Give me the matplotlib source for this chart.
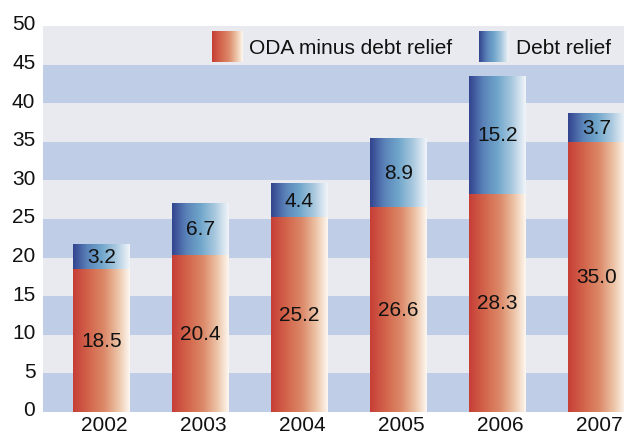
import matplotlib
matplotlib.use("Agg")
import matplotlib.pyplot as plt
from matplotlib.colors import LinearSegmentedColormap
from matplotlib.transforms import ScaledTranslation
import numpy as np

years = ["2002", "2003", "2004", "2005", "2006", "2007"]
oda_minus_debt = [18.5, 20.4, 25.2, 26.6, 28.3, 35.0]
debt_relief = [3.2, 6.7, 4.4, 8.9, 15.2, 3.7]

plt.rcParams['font.family'] = ['Liberation Sans', 'DejaVu Sans']

red_cmap = LinearSegmentedColormap.from_list(
    "red", [(0, "#c63e36"), (0.3, "#d4684e"), (0.55, "#dc8a6a"),
            (0.8, "#edc5a8"), (1, "#fdf8f2")])
blue_cmap = LinearSegmentedColormap.from_list(
    "blue", [(0, "#33438f"), (0.25, "#5a82b8"), (0.5, "#70a6cb"),
             (0.75, "#a8c8de"), (1, "#f2f5f9")])
grad = np.linspace(0, 1, 256).reshape(1, -1)

fig = plt.figure(figsize=(6.24, 4.35), dpi=100)
ax = fig.add_axes([43 / 624, 22 / 435, 581 / 624, 386 / 435])

# background bands
for i, lo in enumerate(range(0, 50, 5)):
    color = "#c0cde6" if i % 2 == 0 else "#e9eaf0"
    ax.axhspan(lo, lo + 5, color=color, lw=0, zorder=0)

x = np.arange(len(years))
width = 0.575
b1 = ax.bar(x, oda_minus_debt, width, color="none", lw=0)
b2 = ax.bar(x, debt_relief, width, bottom=oda_minus_debt, color="none", lw=0)


def fill_gradient(bars, cmap, vals):
    for rect, v in zip(bars, vals):
        x0, y0 = rect.get_x(), rect.get_y()
        x1, y1 = x0 + rect.get_width(), y0 + rect.get_height()
        ax.imshow(grad, cmap=cmap, aspect="auto", extent=(x0, x1, y0, y1),
                  zorder=2, interpolation="bicubic")
        ax.text((x0 + x1) / 2, (y0 + y1) / 2, f"{v:.1f}", ha="center",
                va="center", fontsize=15, color="#111111", zorder=3)


fill_gradient(b1, red_cmap, oda_minus_debt)
fill_gradient(b2, blue_cmap, debt_relief)

# legend
ax.imshow(grad, cmap=red_cmap, aspect="auto", extent=(0.291, 0.343, 0.907, 0.985),
          transform=ax.transAxes, zorder=4)
ax.text(0.355, 0.944, "ODA minus debt relief", transform=ax.transAxes,
        fontsize=15, va="center", ha="left", color="#111111", zorder=4)
ax.imshow(grad, cmap=blue_cmap, aspect="auto", extent=(0.750, 0.800, 0.907, 0.985),
          transform=ax.transAxes, zorder=4)
ax.text(0.814, 0.944, "Debt relief", transform=ax.transAxes,
        fontsize=15, va="center", ha="left", color="#111111", zorder=4)

ax.set_xlim(-0.59, 5.28)
ax.set_ylim(0, 50)
ax.set_yticks(range(0, 51, 5))
ax.set_xticks(x)
ax.set_xticklabels(years)
ax.tick_params(length=0, labelsize=15, colors="#111111")
ax.tick_params(axis="y", pad=5.5)
ax.tick_params(axis="x", pad=2)
shift = ScaledTranslation(0, 3 / 72, fig.dpi_scale_trans)
for lbl in ax.get_yticklabels():
    lbl.set_transform(lbl.get_transform() + shift)
xshift = ScaledTranslation(2 / 72, 0, fig.dpi_scale_trans)
for lbl in ax.get_xticklabels():
    lbl.set_transform(lbl.get_transform() + xshift)
for s in ax.spines.values():
    s.set_visible(False)

fig.savefig("out.png", dpi=100)
